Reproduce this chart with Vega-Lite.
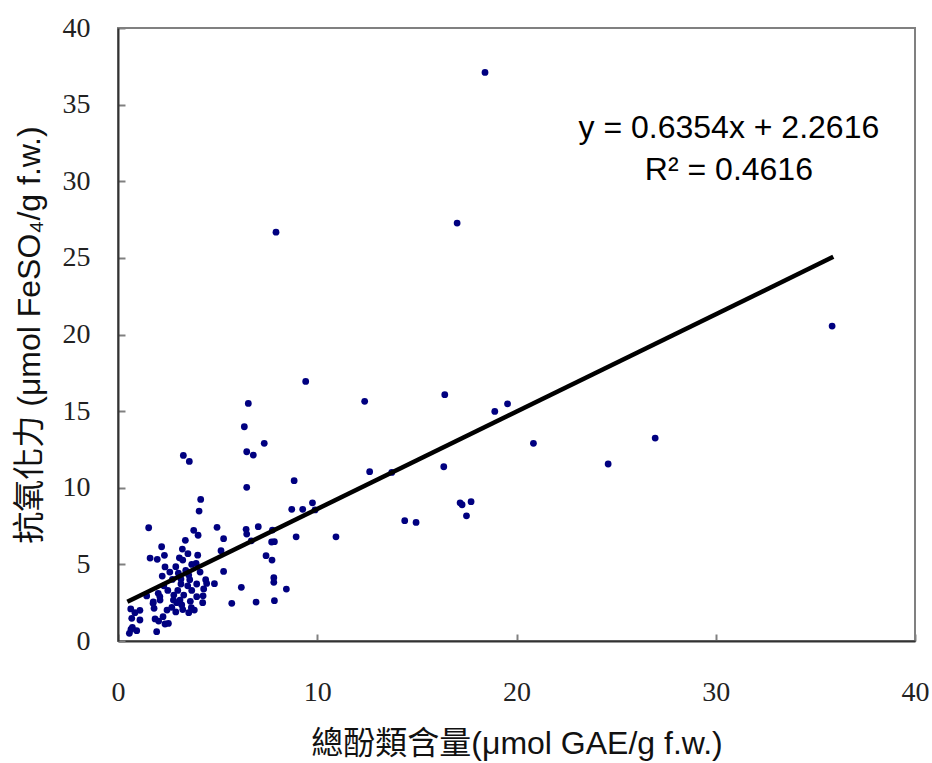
{
  "$schema": "https://vega.github.io/schema/vega-lite/v6.json",
  "width": 797,
  "height": 613,
  "autosize": "none",
  "padding": {"left": 118, "top": 28, "right": 17, "bottom": 122},
  "background": "white",
  "config": {
    "view": {"stroke": "#808080", "strokeWidth": 2},
    "axis": {
      "grid": false,
      "domainColor": "#333333",
      "domainWidth": 2,
      "tickColor": "#808080",
      "tickWidth": 2,
      "tickSize": -7,
      "labelFont": "Liberation Serif",
      "labelFontSize": 28,
      "labelColor": "#222222",
      "labelFlush": false,
      "titleFont": "Liberation Sans, Noto Sans CJK TC",
      "titleFontSize": 32,
      "titleFontWeight": "normal",
      "titleColor": "#111111"
    }
  },
  "datasets": {
    "pts": [
      {"x":18.42,"y":37.1},{"x":35.84,"y":20.55},{"x":7.93,"y":26.68},{"x":17.02,"y":27.27},
      {"x":9.42,"y":16.94},{"x":12.38,"y":15.64},{"x":16.4,"y":16.07},{"x":18.91,"y":14.98},
      {"x":19.55,"y":15.48},{"x":20.85,"y":12.9},{"x":26.96,"y":13.24},{"x":24.6,"y":11.55},
      {"x":16.35,"y":11.37},{"x":12.63,"y":11.05},{"x":13.74,"y":11.0},{"x":17.17,"y":9.02},
      {"x":17.27,"y":8.89},{"x":17.72,"y":9.09},{"x":17.49,"y":8.17},{"x":14.39,"y":7.85},
      {"x":14.96,"y":7.74},{"x":8.84,"y":10.46},{"x":8.72,"y":8.59},{"x":9.27,"y":8.59},
      {"x":9.76,"y":9.02},{"x":9.89,"y":8.55},{"x":10.94,"y":6.8},{"x":8.94,"y":6.8},
      {"x":6.54,"y":15.5},{"x":6.34,"y":13.98},{"x":7.34,"y":12.9},{"x":6.46,"y":12.35},
      {"x":6.79,"y":12.13},{"x":6.46,"y":10.03},{"x":6.43,"y":7.29},{"x":6.46,"y":6.98},
      {"x":7.04,"y":7.46},{"x":6.69,"y":6.54},{"x":7.75,"y":7.24},{"x":7.71,"y":6.46},
      {"x":7.85,"y":6.48},{"x":7.43,"y":5.57},{"x":7.73,"y":5.28},{"x":7.82,"y":4.13},
      {"x":7.82,"y":3.83},{"x":6.19,"y":3.5},{"x":8.45,"y":3.39},{"x":5.71,"y":2.46},
      {"x":6.93,"y":2.54},{"x":7.85,"y":2.63},
      {"x":3.28,"y":12.11},{"x":3.58,"y":11.72},{"x":4.15,"y":9.24},{"x":4.07,"y":8.48},
      {"x":1.54,"y":7.39},{"x":3.8,"y":7.22},{"x":4.02,"y":6.9},{"x":4.97,"y":7.42},
      {"x":5.3,"y":6.68},{"x":5.17,"y":5.89},{"x":5.3,"y":4.54},{"x":4.45,"y":3.76},
      {"x":4.84,"y":3.74},
      {"x":3.38,"y":6.57},{"x":3.23,"y":6.0},{"x":3.51,"y":5.7},{"x":2.19,"y":6.15},
      {"x":2.33,"y":5.59},{"x":1.61,"y":5.41},{"x":1.97,"y":5.33},{"x":3.08,"y":5.43},
      {"x":3.25,"y":5.28},{"x":2.36,"y":4.83},{"x":2.9,"y":4.85},{"x":3.92,"y":5.07},
      {"x":4.12,"y":4.5},{"x":2.22,"y":4.24},{"x":2.73,"y":4.02},{"x":3.03,"y":4.42},
      {"x":3.16,"y":4.04},{"x":3.16,"y":3.72},{"x":3.55,"y":4.3},{"x":3.6,"y":4.0},
      {"x":3.5,"y":3.6},{"x":3.95,"y":3.72},{"x":1.44,"y":2.94},{"x":2.02,"y":3.11},
      {"x":2.11,"y":2.67},{"x":1.77,"y":2.56},{"x":2.78,"y":2.67},{"x":3.11,"y":2.67},
      {"x":3.2,"y":2.35},{"x":2.95,"y":2.5},{"x":3.63,"y":2.59},{"x":3.95,"y":2.89},
      {"x":4.27,"y":2.95},{"x":4.25,"y":2.5},{"x":3.68,"y":2.17},{"x":3.55,"y":1.85},
      {"x":3.83,"y":2.02},{"x":2.46,"y":2.02},{"x":1.86,"y":1.44},{"x":2.04,"y":1.3},
      {"x":2.26,"y":1.59},{"x":2.36,"y":1.11},{"x":2.53,"y":1.15},{"x":1.94,"y":0.61},
      {"x":0.64,"y":2.09},{"x":1.1,"y":2.0},{"x":0.85,"y":1.85},{"x":0.69,"y":1.48},
      {"x":1.1,"y":1.37},{"x":0.72,"y":0.89},{"x":0.94,"y":0.67},{"x":0.57,"y":0.5},
      {"x":0.65,"y":0.75},{"x":1.76,"y":2.46},{"x":1.81,"y":2.13},{"x":2.1,"y":2.9},
      {"x":2.3,"y":3.6},{"x":2.6,"y":4.5},{"x":2.5,"y":3.3},{"x":2.8,"y":3.0},
      {"x":3.0,"y":3.3},{"x":3.3,"y":3.0},{"x":3.7,"y":3.3},{"x":3.4,"y":4.6},
      {"x":3.7,"y":5.0},{"x":4.0,"y":5.6},{"x":2.7,"y":2.2},{"x":2.9,"y":1.9},
      {"x":3.25,"y":2.05},{"x":4.3,"y":3.4},{"x":4.4,"y":4.0}
    ],
    "fit": [{"x":0.47,"y":2.56},{"x":35.9,"y":25.07}],
    "labels": [
      {"x":30.66,"y":33.45,"t":"y = 0.6354x + 2.2616"},
      {"x":30.66,"y":30.75,"t":"R² = 0.4616"}
    ]
  },
  "layer": [
    {
      "data": {"name": "pts"},
      "mark": {"type": "circle", "color": "#000080", "opacity": 1, "size": 46},
      "encoding": {
        "x": {"field": "x", "type": "quantitative",
              "scale": {"domain": [0, 40], "nice": false, "zero": false},
              "axis": {"values": [0, 10, 20, 30, 40], "labelPadding": 44,
                       "title": "總酚類含量(μmol GAE/g f.w.)", "titlePadding": 22}},
        "y": {"field": "y", "type": "quantitative",
              "scale": {"domain": [0, 40], "nice": false, "zero": false},
              "axis": {"values": [0, 5, 10, 15, 20, 25, 30, 35, 40], "labelPadding": 35,
                       "title": "抗氧化力 (μmol FeSO₄/g f.w.)", "titlePadding": 16}}
      }
    },
    {
      "data": {"name": "fit"},
      "mark": {"type": "line", "color": "#000000", "strokeWidth": 4.5},
      "encoding": {
        "x": {"field": "x", "type": "quantitative"},
        "y": {"field": "y", "type": "quantitative"}
      }
    },
    {
      "data": {"name": "labels"},
      "mark": {"type": "text", "font": "Liberation Sans", "fontSize": 32, "color": "#000000", "align": "center", "baseline": "middle"},
      "encoding": {
        "x": {"field": "x", "type": "quantitative"},
        "y": {"field": "y", "type": "quantitative"},
        "text": {"field": "t"}
      }
    }
  ]
}
